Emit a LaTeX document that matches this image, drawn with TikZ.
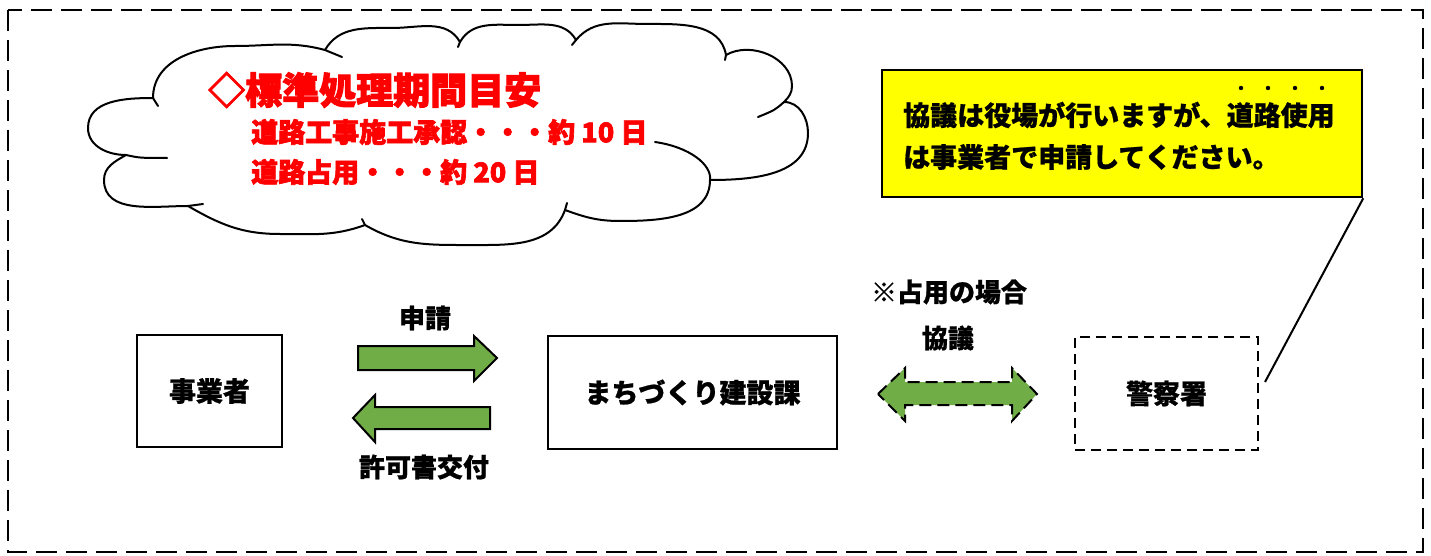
\documentclass[tikz,border=0pt]{standalone}
\usepackage{fontspec}
\setmainfont{Noto Sans CJK JP}[BoldFeatures={FakeBold=0.8}]
\newfontfamily\heavy[BoldFeatures={FakeBold=2.5}]{Noto Sans CJK JP}
\definecolor{agreen}{RGB}{112,173,71}
\definecolor{ayellow}{RGB}{255,255,0}
\definecolor{ared}{RGB}{255,0,0}
\tikzset{
  frame/.style={draw=black, line width=2.8pt, dash pattern=on 21pt off 9pt},
  cloudline/.style={draw=black, line width=2pt, line cap=round, line join=round},
  stepbox/.style={draw=black, line width=1.4pt, fill=white, inner sep=0pt,
    font=\bfseries\fontsize{27}{30}\selectfont},
  dashbox/.style={stepbox, dash pattern=on 10pt off 6pt},
  notebox/.style={draw=black, line width=2.5pt, fill=ayellow, inner sep=0pt,
    minimum width=480pt, minimum height=127pt},
  lbl/.style={inner sep=0pt, font=\bfseries\fontsize{26}{30}\selectfont},
  redtxt/.style={inner sep=0pt, anchor=west, text=ared, font=\heavy\bfseries\fontsize{27}{30}\selectfont},
  blockarrow/.style={fill=agreen, draw=black, line width=2pt, line join=miter},
  dasharrow/.style={fill=agreen, draw=black, line width=2pt, dash pattern=on 12pt off 6pt},
}
\begin{document}
\begin{tikzpicture}[x=1pt,y=1pt]
\useasboundingbox (0,0) rectangle (1431,-556);
\fill[white] (0,0) rectangle (1431,-556);
% outer dashed frame
\draw[frame] (8,-10) rectangle (1423,-552);

% cloud
\draw[cloudline, fill=white]
  (153,-98) to[out=90,in=180] (235,-46) to[out=0,in=165] (325,-50)
  to[out=60,in=180] (392,-28) to[out=0,in=120] (460,-42)
  to[out=60,in=180] (519,-25) to[out=0,in=120] (576,-40)
  to[out=50,in=180] (647,-24) to[out=0,in=100] (726,-55)
  to[out=30,in=90] (792,-86) to[out=-90,in=45] (784,-102)
  to[out=0,in=90] (808,-133) to[out=-90,in=0] (710,-180)
  to[out=-90,in=0] (620,-221) to[out=180,in=-20] (565,-210)
  to[out=-110,in=0] (470,-245) to[out=180,in=-30] (365,-225)
  to[out=-160,in=0] (280,-234) to[out=180,in=-30] (188,-206)
  to[out=180,in=-90] (104,-180) to[out=90,in=-150] (126,-155)
  to[out=180,in=-90] (88,-128) to[out=90,in=180] (153,-98) -- cycle;
% cloud inner fragments
\draw[cloudline] (153,-98) -- (158,-106);
\draw[cloudline] (126,-155) .. controls (140,-158) .. (167,-158);
\draw[cloudline] (188,-206) -- (203,-204);
\draw[cloudline] (365,-225) -- (362,-219);
\draw[cloudline] (565,-210) -- (567,-203);
\draw[cloudline] (710,-180) .. controls (712,-165) and (690,-147) .. (655,-142);
\draw[cloudline] (784,-102) .. controls (775,-110) .. (758,-117);
\draw[cloudline] (726,-55) -- (725,-60);
\draw[cloudline] (576,-40) -- (572,-45);
\draw[cloudline] (460,-42) -- (458,-47);
\draw[cloudline] (325,-50) -- (342,-57);

% cloud text
\node[redtxt, font=\heavy\bfseries\fontsize{37}{40}\selectfont] (ttl) at (208,-90) {◇標準処理期間目安};
\node[redtxt] (l2) at (251,-132) {道路工事施工承認・・・約 10 日};
\node[redtxt] (l3) at (251,-172) {道路占用・・・約 20 日};

% yellow note
\node[notebox] (note) at (1122,-133.5) {};
\node[lbl, anchor=west, font=\bfseries\fontsize{27}{30}\selectfont] (n1) at (903,-115) {協議は役場が行いますが、道路使用};
\node[lbl, anchor=west, font=\bfseries\fontsize{27}{30}\selectfont] (n2) at (903,-157) {は事業者で申請してください。};
\foreach \x in {1241,1268,1295,1322} \fill (\x,-88) circle (2.2);

% boxes
\node[stepbox, minimum width=145pt, minimum height=112pt] (jig) at (209.5,-391) {事業者};
\node[stepbox, minimum width=289pt, minimum height=113pt] (machi) at (692.5,-392.5) {まちづくり建設課};
\node[dashbox, minimum width=183pt, minimum height=113pt] (police) at (1166.5,-393.5) {警察署};

% callout line
\coordinate (tail) at (1265,-382);
\draw[line width=2pt] (tail) -- (note.south east);

% block arrows
\draw[blockarrow] (358,-346) -- (474,-346) -- (474,-336) -- (497,-358) -- (474,-381) -- (474,-370) -- (358,-370) -- cycle;
\draw[blockarrow] (490,-407) -- (375,-407) -- (375,-395) -- (353,-418) -- (375,-442) -- (375,-429) -- (490,-429) -- cycle;
\draw[dasharrow] (878,-394) -- (905,-368) -- (905,-382) -- (1012,-382) -- (1012,-368) -- (1037,-394)
  -- (1012,-421) -- (1012,-405) -- (905,-405) -- (905,-421) -- cycle;

% labels
\node[lbl] (shinsei) at (425,-318) {申請};
\node[lbl] (kyoka) at (424,-467) {許可書交付};
\node[lbl] (senyo) at (949,-292) {※占用の場合};
\node[lbl] (kyogi) at (948,-338) {協議};
\end{tikzpicture}
\end{document}
